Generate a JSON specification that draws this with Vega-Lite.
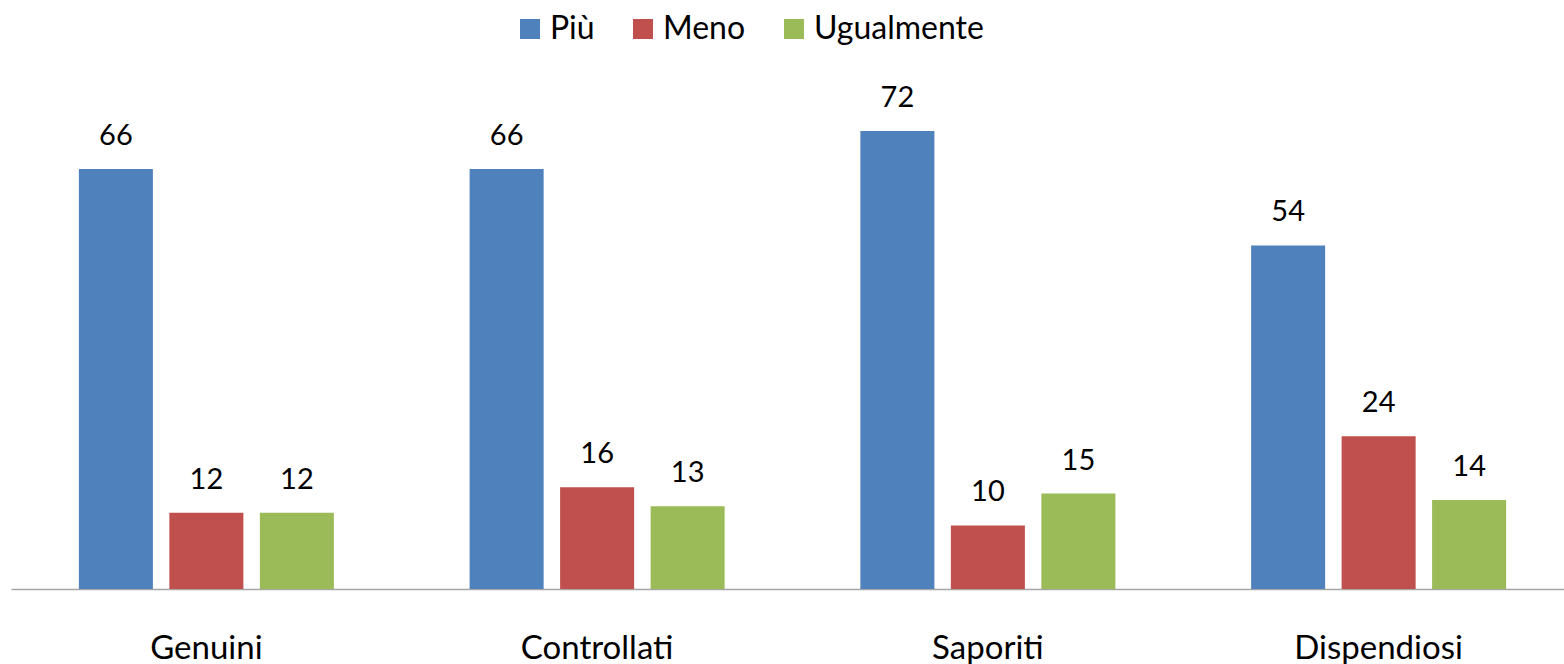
{
  "$schema": "https://vega.github.io/schema/vega-lite/v6.json",
  "width": 1564,
  "height": 509,
  "autosize": {"type": "none"},
  "padding": {"left": 0, "top": 80, "right": 0, "bottom": 75},
  "background": "white",
  "config": {"view": {"stroke": null}, "font": "Lato"},
  "data": {"values": [
    {"cat": "Genuini", "serie": "Più", "v": 66},
    {"cat": "Genuini", "serie": "Meno", "v": 12},
    {"cat": "Genuini", "serie": "Ugualmente", "v": 12},
    {"cat": "Controllati", "serie": "Più", "v": 66},
    {"cat": "Controllati", "serie": "Meno", "v": 16},
    {"cat": "Controllati", "serie": "Ugualmente", "v": 13},
    {"cat": "Saporiti", "serie": "Più", "v": 72},
    {"cat": "Saporiti", "serie": "Meno", "v": 10},
    {"cat": "Saporiti", "serie": "Ugualmente", "v": 15},
    {"cat": "Dispendiosi", "serie": "Più", "v": 54},
    {"cat": "Dispendiosi", "serie": "Meno", "v": 24},
    {"cat": "Dispendiosi", "serie": "Ugualmente", "v": 14}
  ]},
  "encoding": {
    "x": {"field": "cat", "type": "nominal", "sort": null,
      "scale": {"range": [11, 1574], "paddingInner": 0, "paddingOuter": 0},
      "axis": {"title": null, "labelAngle": 0, "ticks": false, "tickSize": 0, "domainColor": "#A6A6A6", "domainWidth": 1.5,
        "labelFont": "Lato", "labelFontSize": 33, "labelColor": "#000000", "labelBaseline": "alphabetic", "labelPadding": 69, "grid": false}},
    "xOffset": {"field": "serie", "type": "nominal", "sort": ["Più", "Meno", "Ugualmente"],
      "scale": {"paddingInner": 0.182, "paddingOuter": 0.75}},
    "y": {"field": "v", "type": "quantitative", "scale": {"domain": [0, 80], "nice": false}, "axis": null}
  },
  "layer": [
    {"mark": {"type": "bar"},
     "encoding": {"color": {"field": "serie", "type": "nominal", "sort": ["Più", "Meno", "Ugualmente"],
       "scale": {"domain": ["Più", "Meno", "Ugualmente"], "range": ["#4F81BD", "#C0504D", "#9BBB59"]},
       "legend": {"title": null, "orient": "none", "direction": "horizontal", "legendX": 514, "legendY": -67,
         "symbolType": "square", "symbolSize": 400, "symbolStrokeWidth": 0, "symbolOpacity": 1,
         "labelFont": "Lato", "labelFontSize": 32, "labelLimit": 0, "labelColor": "#000000", "labelOffset": 4, "columnPadding": 32, "padding": 0}}}},
    {"mark": {"type": "text", "baseline": "alphabetic", "dy": -24, "font": "Lato", "fontSize": 29, "color": "#000000"},
     "encoding": {"text": {"field": "v", "type": "quantitative"}}}
  ]
}
